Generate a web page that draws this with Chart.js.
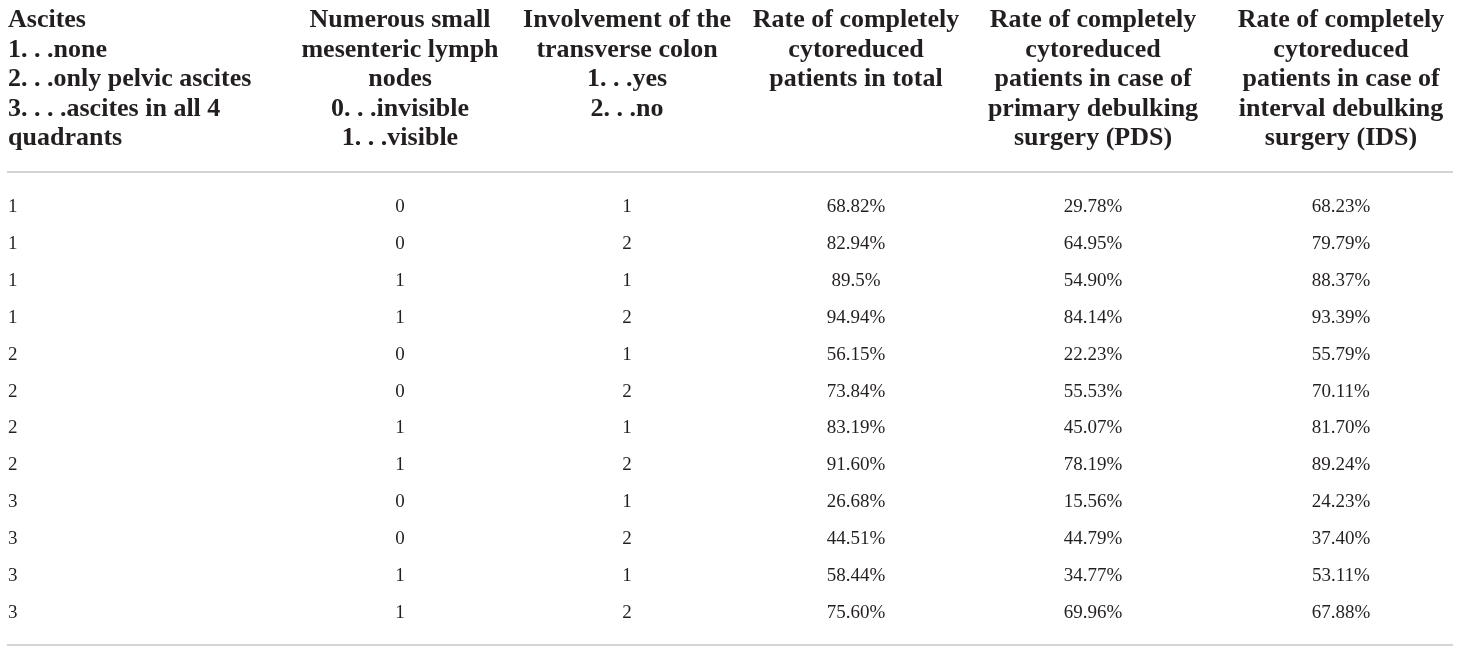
<!DOCTYPE html>
<html>
<head>
<meta charset="utf-8">
<script src="https://cdn.jsdelivr.net/npm/chart.js@4.4.1/dist/chart.umd.min.js"></script>
<style>
  html, body { margin: 0; padding: 0; background: #fff; }
  #wrap { width: 1460px; height: 653px; }
</style>
</head>
<body>
<div id="wrap"><canvas id="myChart"></canvas></div>
<script>
// column keys and header text (one array of lines per column)
const columns = ['ascites', 'lymph', 'colon', 'total', 'pds', 'ids'];
const headers = [
  ['Ascites', '1. . .none', '2. . .only pelvic ascites', '3. . . .ascites in all 4', 'quadrants'],
  ['Numerous small', 'mesenteric lymph', 'nodes', '0. . .invisible', '1. . .visible'],
  ['Involvement of the', 'transverse colon', '1. . .yes', '2. . .no'],
  ['Rate of completely', 'cytoreduced', 'patients in total'],
  ['Rate of completely', 'cytoreduced', 'patients in case of', 'primary debulking', 'surgery (PDS)'],
  ['Rate of completely', 'cytoreduced', 'patients in case of', 'interval debulking', 'surgery (IDS)']
];

// table values, one array per column
const ascites = [1, 1, 1, 1, 2, 2, 2, 2, 3, 3, 3, 3];
const lymphNodes = [0, 0, 1, 1, 0, 0, 1, 1, 0, 0, 1, 1];
const colon = [1, 2, 1, 2, 1, 2, 1, 2, 1, 2, 1, 2];
const rateTotal = ['68.82%', '82.94%', '89.5%', '94.94%', '56.15%', '73.84%', '83.19%', '91.60%', '26.68%', '44.51%', '58.44%', '75.60%'];
const ratePDS = ['29.78%', '64.95%', '54.90%', '84.14%', '22.23%', '55.53%', '45.07%', '78.19%', '15.56%', '44.79%', '34.77%', '69.96%'];
const rateIDS = ['68.23%', '79.79%', '88.37%', '93.39%', '55.79%', '70.11%', '81.70%', '89.24%', '24.23%', '37.40%', '53.11%', '67.88%'];

const cellColumns = [ascites, lymphNodes, colon, rateTotal, ratePDS, rateIDS];

// look
const textColor = '#231f20';
const ruleColor = '#d4d4d4';
const headFont = 'bold 26px "Liberation Serif"';
const bodyFont = '19px "Liberation Serif"';
const colAlign = ['left', 'center', 'center', 'center', 'center', 'center'];
const colNudge = [1, 31.5, 17.5, 5.5, 1.5, 8.5];
const headBaseline = 27, headLine = 29.5, bodyBaseShift = 6.5;

function colX(xs, i) {
  let x = xs.getPixelForValue(i);
  if (colAlign[i] === 'left') x -= (xs.right - xs.left) / columns.length / 2;
  return x + colNudge[i];
}

const tablePlugin = {
  id: 'tableText',
  afterDatasetsDraw(chart) {
    const ctx = chart.ctx;
    const xs = chart.scales.x;
    const area = chart.chartArea;
    ctx.save();
    // rules
    ctx.strokeStyle = ruleColor;
    ctx.lineWidth = 2;
    [area.top, area.bottom].forEach(y => {
      ctx.beginPath();
      ctx.moveTo(area.left, y);
      ctx.lineTo(area.right, y);
      ctx.stroke();
    });
    // header
    ctx.fillStyle = textColor;
    ctx.textBaseline = 'alphabetic';
    ctx.font = headFont;
    headers.forEach((lines, i) => {
      ctx.textAlign = colAlign[i];
      lines.forEach((t, k) => ctx.fillText(t, colX(xs, i), headBaseline + k * headLine));
    });
    // cells
    ctx.font = bodyFont;
    chart.data.datasets.forEach((ds, i) => {
      const meta = chart.getDatasetMeta(i);
      ctx.textAlign = colAlign[i];
      meta.data.forEach((el, r) => {
        ctx.fillText(String(ds.cells[r]), colX(xs, i), el.y + bodyBaseShift);
      });
    });
    ctx.restore();
  }
};

const ctx = document.getElementById('myChart').getContext('2d');
const chart = new Chart(ctx, {
  type: 'scatter',
  data: {
    labels: columns,
    datasets: cellColumns.map((vals, i) => ({
      label: columns[i],
      cells: vals,
      data: vals.map((v, r) => ({ x: columns[i], y: r })),
      pointRadius: 0,
      pointHoverRadius: 0,
      showLine: false
    }))
  },
  options: {
    responsive: true,
    maintainAspectRatio: false,
    animation: false,
    events: [],
    layout: { padding: { top: 172, bottom: 8, left: 7, right: 7 } },
    plugins: { legend: { display: false }, tooltip: { enabled: false } },
    scales: {
      x: { type: 'category', labels: columns, offset: true, display: false },
      y: { type: 'linear', reverse: true, min: -0.908, max: 11.908, display: false }
    }
  },
  plugins: [tablePlugin]
});
</script>
</body>
</html>
